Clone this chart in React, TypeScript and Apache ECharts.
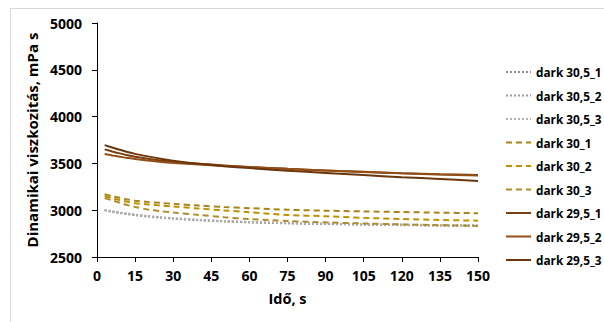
import React, { useEffect, useRef } from "react";
import * as echarts from "echarts";

const times = [3, 6, 9, 12, 15, 20, 25, 30, 40, 50, 60, 75, 90, 105, 120, 135, 150];

const dark30_5_1 = [3000, 2985, 2972, 2960, 2950, 2935, 2922, 2912, 2895, 2882, 2872, 2862, 2855, 2848, 2843, 2838, 2835];
const dark30_5_2 = [2998, 2983, 2970, 2958, 2948, 2932, 2920, 2910, 2893, 2880, 2870, 2860, 2852, 2846, 2840, 2836, 2832];
const dark30_5_3 = [3002, 2988, 2975, 2963, 2953, 2938, 2925, 2915, 2898, 2885, 2875, 2866, 2858, 2851, 2846, 2841, 2838];

const dark30_1 = [3170, 3150, 3132, 3115, 3102, 3088, 3078, 3068, 3050, 3035, 3022, 3005, 2995, 2987, 2980, 2974, 2968];
const dark30_2 = [3150, 3128, 3108, 3090, 3075, 3062, 3050, 3040, 3018, 2998, 2978, 2950, 2935, 2918, 2906, 2896, 2888];
const dark30_3 = [3130, 3105, 3080, 3055, 3035, 3008, 2990, 2975, 2950, 2925, 2905, 2885, 2870, 2858, 2848, 2840, 2832];

const dark29_5_1 = [3650, 3628, 3607, 3588, 3572, 3550, 3532, 3518, 3495, 3478, 3462, 3442, 3425, 3408, 3394, 3384, 3377];
const dark29_5_2 = [3600, 3585, 3571, 3558, 3546, 3530, 3516, 3505, 3488, 3473, 3460, 3442, 3425, 3410, 3395, 3381, 3370];
const dark29_5_3 = [3695, 3670, 3645, 3622, 3602, 3575, 3550, 3528, 3495, 3470, 3450, 3422, 3398, 3375, 3353, 3333, 3313];

const seriesNames = [
  "dark 30,5_1", "dark 30,5_2", "dark 30,5_3",
  "dark 30_1", "dark 30_2", "dark 30_3",
  "dark 29,5_1", "dark 29,5_2", "dark 29,5_3",
];
const seriesValues = [
  dark30_5_1, dark30_5_2, dark30_5_3,
  dark30_1, dark30_2, dark30_3,
  dark29_5_1, dark29_5_2, dark29_5_3,
];
const seriesColors = [
  "#8c8c8c", "#9a9a9a", "#b0b0b0",
  "#a8841a", "#bf9000", "#b08d2a",
  "#7a3e10", "#944f16", "#6b360c",
];
const seriesTypes: any[] = ["dotted", "dotted", "dotted", [6, 4], [6, 4], [6, 4], "solid", "solid", "solid"];

const FONT = "Open Sans";

export default function App() {
  const ref = useRef<HTMLDivElement>(null);
  useEffect(() => {
    if (!ref.current) return;
    const chart = echarts.init(ref.current, undefined, { renderer: "svg" });
    chart.setOption({
      animation: false,
      backgroundColor: "#ffffff",
      graphic: [
        {
          type: "rect",
          shape: { x: 10.5, y: 8.5, width: 600, height: 320 },
          style: { fill: "none", stroke: "#d9d9d9", lineWidth: 1 },
          silent: true,
          z: -10,
        },
      ],
      grid: { left: 97, right: 126, top: 23, bottom: 65 },
      legend: {
        orient: "vertical",
        left: 505,
        top: 66,
        padding: 0,
        itemWidth: 25,
        itemHeight: 14,
        itemGap: 11.5,
        itemStyle: { opacity: 0 },
        textStyle: { fontFamily: FONT, fontWeight: "bold", fontSize: 11.8, color: "#000" },
        data: seriesNames,
      },
      xAxis: {
        type: "value",
        min: 0,
        max: 150,
        interval: 15,
        name: "Idő, s",
        nameLocation: "middle",
        nameGap: 34,
        nameTextStyle: { fontFamily: FONT, fontWeight: "bold", fontSize: 14.5, color: "#000" },
        axisLine: { show: true, lineStyle: { color: "#000", width: 1 } },
        axisTick: { show: true, length: 5, lineStyle: { color: "#000" } },
        axisLabel: { fontFamily: FONT, fontWeight: "bold", fontSize: 14, color: "#000", margin: 11, formatter: (v: number) => String(v) },
        splitLine: { show: false },
      },
      yAxis: {
        type: "value",
        min: 2500,
        max: 5000,
        interval: 500,
        name: "Dinamikai viszkozitás, mPa s",
        nameLocation: "middle",
        nameGap: 52,
        nameTextStyle: { fontFamily: FONT, fontWeight: "bold", fontSize: 15, color: "#000" },
        axisLine: { show: true, lineStyle: { color: "#000", width: 1 } },
        axisTick: { show: true, length: 5, lineStyle: { color: "#000" } },
        axisLabel: { fontFamily: FONT, fontWeight: "bold", fontSize: 14, color: "#000", margin: 15, formatter: (v: number) => String(v) },
        splitLine: { show: false },
      },
      series: seriesNames.map((name, i) => ({
        name,
        type: "line",
        data: times.map((t, j) => [t, seriesValues[i][j]]),
        symbol: "none",
        showSymbol: false,
        smooth: 0.3,
        color: seriesColors[i],
        lineStyle: { color: seriesColors[i], width: 2, type: seriesTypes[i] },
        z: i >= 6 ? 3 : 2,
      })),
    });
    return () => chart.dispose();
  }, []);
  return (
    <div
      ref={ref}
      style={{ position: "fixed", left: 0, top: 0, width: 604, height: 322 }}
    />
  );
}
